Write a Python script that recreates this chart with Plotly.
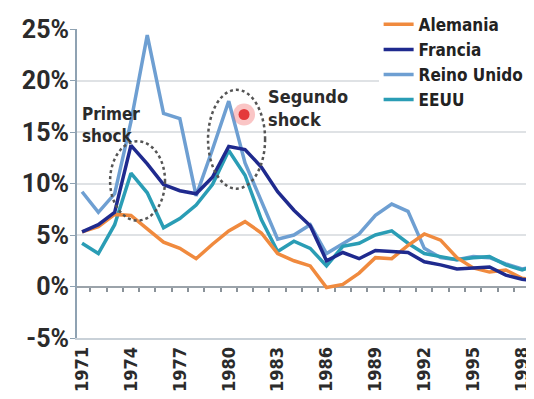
import plotly.graph_objects as go

years = list(range(1971, 2000))

alemania = [5.3, 5.8, 7.0, 6.9, 5.6, 4.3, 3.7, 2.7, 4.1, 5.4, 6.3, 5.2, 3.2, 2.5, 2.0, -0.1,
            0.2, 1.3, 2.8, 2.7, 4.0, 5.1, 4.5, 2.8, 1.8, 1.4, 1.6, 0.8, 0.6]
francia = [5.3, 6.0, 7.2, 13.7, 11.9, 9.9, 9.3, 9.0, 10.6, 13.6, 13.3, 11.6, 9.2, 7.4, 5.9, 2.5,
           3.3, 2.7, 3.5, 3.4, 3.3, 2.4, 2.1, 1.7, 1.8, 1.9, 1.1, 0.7, 0.5]
reino_unido = [9.2, 7.2, 9.0, 16.0, 24.4, 16.8, 16.3, 8.8, 13.3, 18.0, 12.0, 8.4, 4.6, 5.0, 6.0, 3.2,
               4.2, 5.1, 6.9, 8.0, 7.3, 3.7, 2.8, 2.6, 2.9, 2.8, 2.2, 1.7, 2.0]
eeuu = [4.2, 3.2, 6.0, 11.0, 9.1, 5.7, 6.6, 7.9, 9.9, 13.2, 10.8, 6.5, 3.4, 4.4, 3.7, 2.0,
        3.9, 4.2, 5.0, 5.4, 4.2, 3.2, 2.9, 2.6, 2.8, 2.9, 2.1, 1.6, 2.2]

x_tick_years = list(range(1971, 1999, 3))
x_tick_text = [str(y) for y in x_tick_years]
y_tick_vals = [-5, 0, 5, 10, 15, 20, 25]
y_tick_text = ["-5%", "0%", "5%", "10%", "15%", "20%", "25%"]

# annotation helpers (chart-space positions of the decorations)
shock1_box = (1972.72, 1976.09, 6.4, 14.1)
shock2_box = (1978.73, 1982.23, 9.5, 19.1)
red_dot_x = [1980.94]
red_dot_y = [16.7]

colors = {
    "Alemania": "#f08a3e",
    "Francia": "#1f2a8e",
    "Reino Unido": "#6e9fd2",
    "EEUU": "#2a9db5",
}

TXT = "#2b2b2b"
COND = "DejaVu Sans Condensed"

fig = go.Figure()

series = [
    ("Reino Unido", reino_unido, 3),
    ("EEUU", eeuu, 4),
    ("Alemania", alemania, 1),
    ("Francia", francia, 2),
]
for name, vals, rank in series:
    fig.add_trace(go.Scatter(
        x=years, y=vals, name=name, mode="lines",
        line=dict(color=colors[name], width=3.5),
        legendrank=rank,
    ))

# helper trace for minor-tick axis on zero line
fig.add_trace(go.Scatter(x=years, y=[None] * len(years), xaxis="x2", yaxis="y",
                         showlegend=False, hoverinfo="skip", mode="lines"))

# red dot with glow
fig.add_trace(go.Scatter(x=red_dot_x, y=red_dot_y, mode="markers", showlegend=False,
                         hoverinfo="skip",
                         marker=dict(size=22, color="rgba(240,90,90,0.35)", line=dict(width=0))))
fig.add_trace(go.Scatter(x=red_dot_x, y=red_dot_y, mode="markers", showlegend=False,
                         hoverinfo="skip",
                         marker=dict(size=11, color="#e4393b", line=dict(width=0))))

x_range = [1970.69, 1998.73]

# the page body adds an 8px offset, so margins are reduced accordingly
fig.update_layout(
    width=534, height=399,
    margin=dict(l=69, r=8, t=21, b=69, autoexpand=False),
    paper_bgcolor="white", plot_bgcolor="white",
    font=dict(family=COND, color=TXT),
    showlegend=True,
    legend=dict(
        x=0.66, y=1.072, xanchor="left", yanchor="top",
        bgcolor="white", borderwidth=0,
        font=dict(size=17, color="#222", family=COND, weight="bold"),
        itemwidth=30, tracegroupgap=0,
    ),
    xaxis=dict(
        range=x_range, tickmode="array", tickvals=x_tick_years, ticktext=x_tick_text,
        tickangle=-90, showgrid=False, zeroline=False, automargin=False,
        showline=True, linecolor="#c9d1d8", linewidth=1.5, ticks="",
        tickfont=dict(size=18, color=TXT, family=COND, weight="bold"),
    ),
    xaxis2=dict(
        range=x_range, overlaying="x", anchor="free", position=5 / 30,
        tickmode="array", tickvals=[y + 0.5 for y in years[:-1]],
        ticks="outside", ticklen=4, tickwidth=1.5, tickcolor="#8a9299",
        showticklabels=False, showgrid=False, showline=False, zeroline=False,
        automargin=False,
    ),
    yaxis=dict(
        range=[-5, 25], tickmode="array", tickvals=y_tick_vals, ticktext=y_tick_text,
        showgrid=True, gridcolor="#dfe2e5", gridwidth=1.5, automargin=False,
        zeroline=True, zerolinecolor="#9ba3aa", zerolinewidth=2,
        showline=True, linecolor="#8fa2b2", linewidth=2,
        ticks="outside", ticklen=5, tickcolor="#8fa2b2",
        ticklabelstandoff=-4,
        tickfont=dict(size=25, color=TXT, family="Roboto", weight="bold"),
    ),
    shapes=[
        dict(type="circle", xref="x", yref="y",
             x0=shock1_box[0], x1=shock1_box[1], y0=shock1_box[2], y1=shock1_box[3],
             line=dict(color="#555", width=2.5, dash="dot")),
        dict(type="circle", xref="x", yref="y",
             x0=shock2_box[0], x1=shock2_box[1], y0=shock2_box[2], y1=shock2_box[3],
             line=dict(color="#555", width=2.5, dash="dot")),
    ],
    annotations=[
        dict(text="Primer<br>shock", x=1970.85, y=17.9, xref="x", yref="y",
             xanchor="left", yanchor="top", align="left", showarrow=False,
             font=dict(size=17, color=TXT, family=COND, weight="bold")),
        dict(text="Segundo<br>shock", x=1982.3, y=19.7, xref="x", yref="y",
             xanchor="left", yanchor="top", align="left", showarrow=False,
             font=dict(size=18, color=TXT, family=COND, weight="bold")),
    ],
)

fig.write_html("out.html")
